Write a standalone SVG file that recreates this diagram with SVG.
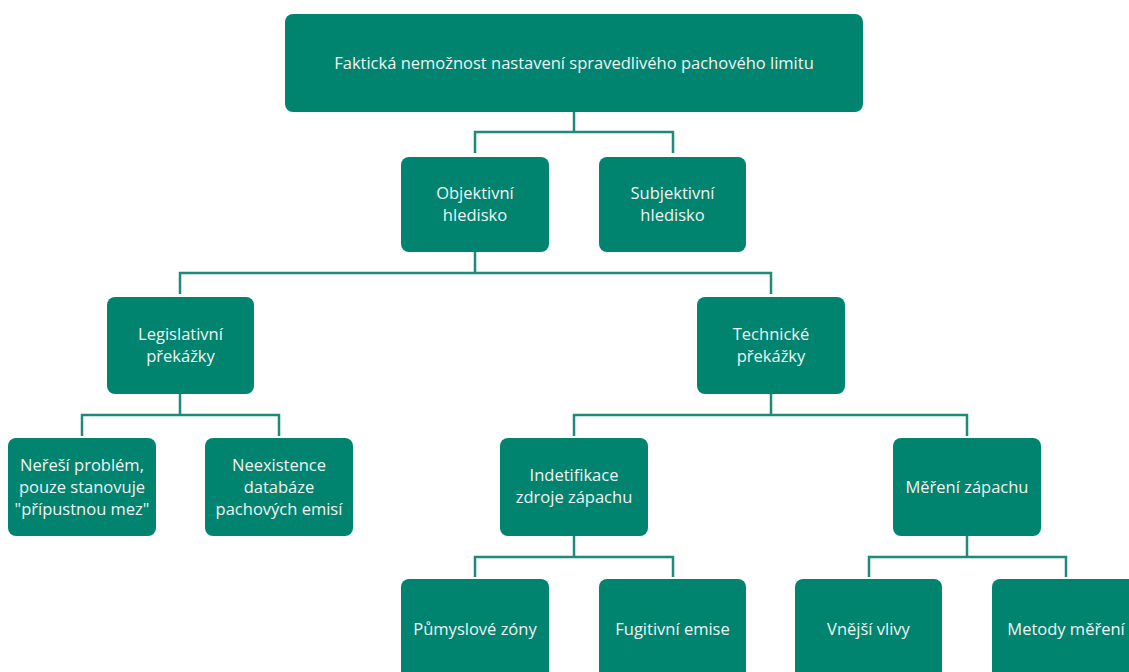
<svg xmlns="http://www.w3.org/2000/svg" width="1129" height="672" viewBox="0 0 1129 672">
<style>
.box{fill:#00846F;}
.t{font-family:"Open Sans","Liberation Sans",sans-serif;font-size:16.5px;fill:#F2F2F2;text-anchor:middle;}
.c{fill:none;stroke:#1F8A78;stroke-width:2.5;}
</style>
<rect width="1129" height="672" fill="#FFFFFF"/>
<g id="connectors">
<path class="c" d="M574 112 V132 M475 153 V132 H673 V153"/>
<path class="c" d="M475 252 V273 M180 294 V273 H771 V294"/>
<path class="c" d="M180 394 V415 M82 436 V415 H279 V436"/>
<path class="c" d="M771 394 V415 M574 436 V415 H967 V436"/>
<path class="c" d="M574 536 V557 M475 577 V557 H673 V577"/>
<path class="c" d="M967 536 V557 M869 577 V557 H1066 V577"/>
</g>
<g id="n_top"><rect class="box" x="285" y="14" width="578" height="98" rx="8"/><text class="t" x="574" y="69">Faktická nemožnost nastavení spravedlivého pachového limitu</text></g>
<g id="n_obj"><rect class="box" x="401" y="157" width="148" height="95" rx="8"/><text class="t" x="475" y="199">Objektivní</text><text class="t" x="475" y="221">hledisko</text></g>
<g id="n_subj"><rect class="box" x="599" y="157" width="147" height="95" rx="8"/><text class="t" x="672.5" y="199">Subjektivní</text><text class="t" x="672.5" y="221">hledisko</text></g>
<g id="n_leg"><rect class="box" x="107" y="297" width="147" height="97" rx="8"/><text class="t" x="180.5" y="340">Legislativní</text><text class="t" x="180.5" y="362">překážky</text></g>
<g id="n_tech"><rect class="box" x="697" y="297" width="148" height="97" rx="8"/><text class="t" x="771" y="340">Technické</text><text class="t" x="771" y="362">překážky</text></g>
<g id="n_neresi"><rect class="box" x="8" y="438" width="148" height="98" rx="8"/><text class="t" x="82" y="471">Neřeší problém,</text><text class="t" x="82" y="493">pouze stanovuje</text><text class="t" x="82" y="515">"přípustnou mez"</text></g>
<g id="n_neex"><rect class="box" x="205" y="438" width="148" height="98" rx="8"/><text class="t" x="279" y="471">Neexistence</text><text class="t" x="279" y="493">databáze</text><text class="t" x="279" y="515">pachových emisí</text></g>
<g id="n_ident"><rect class="box" x="500" y="438" width="148" height="98" rx="8"/><text class="t" x="574" y="481">Indetifikace</text><text class="t" x="574" y="503">zdroje zápachu</text></g>
<g id="n_mereni"><rect class="box" x="893" y="438" width="148" height="98" rx="8"/><text class="t" x="967" y="493">Měření zápachu</text></g>
<g id="n_prum"><rect class="box" x="401" y="579" width="148" height="110" rx="8"/><text class="t" x="475" y="635">Půmyslové zóny</text></g>
<g id="n_fug"><rect class="box" x="599" y="579" width="147" height="110" rx="8"/><text class="t" x="672.5" y="635">Fugitivní emise</text></g>
<g id="n_vnej"><rect class="box" x="795" y="579" width="147" height="110" rx="8"/><text class="t" x="868.5" y="635">Vnější vlivy</text></g>
<g id="n_metody"><rect class="box" x="992" y="579" width="148" height="110" rx="8"/><text class="t" x="1066" y="635">Metody měření</text></g>
</svg>
